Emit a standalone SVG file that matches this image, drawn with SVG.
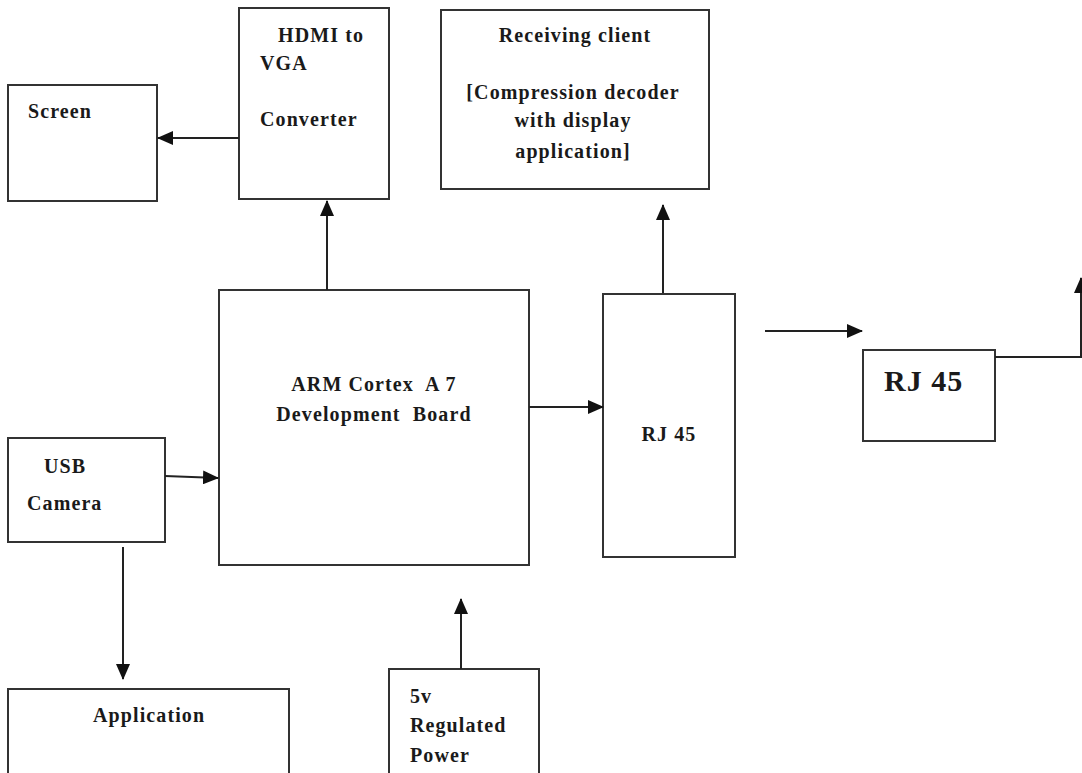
<svg xmlns="http://www.w3.org/2000/svg" width="1082" height="773" viewBox="0 0 1082 773">
<style>
.box{fill:#fff;stroke:#333;stroke-width:2}
.t{font-family:"Liberation Serif","Times New Roman",serif;font-weight:bold;font-size:20px;letter-spacing:1.1px;fill:#1a1a1a}
.c{stroke:#222;stroke-width:2;fill:none}
</style>
<defs>
<marker id="ah" markerUnits="userSpaceOnUse" markerWidth="16" markerHeight="14" refX="15" refY="7" orient="auto">
<path d="M0,0 L16,7 L0,14 Z" fill="#111"/>
</marker>
</defs>
<rect width="1082" height="773" fill="#fff"/>
<g id="screen"><rect class="box" x="8" y="85" width="149" height="116"/><text class="t" x="28" y="118">Screen</text></g>
<g id="hdmi"><rect class="box" x="239" y="8" width="150" height="191"/><text class="t" x="278" y="42">HDMI to</text><text class="t" x="260" y="70">VGA</text><text class="t" x="260" y="126">Converter</text></g>
<g id="client"><rect class="box" x="441" y="10" width="268" height="179"/>
<text class="t" x="575" y="42" text-anchor="middle">Receiving client</text>
<text class="t" x="573" y="99" text-anchor="middle">[Compression decoder</text>
<text class="t" x="573" y="127" text-anchor="middle">with display</text>
<text class="t" x="573" y="158" text-anchor="middle">application]</text></g>
<g id="arm"><rect class="box" x="219" y="290" width="310" height="275"/>
<text class="t" x="374" y="391" text-anchor="middle" xml:space="preserve">ARM Cortex  A 7</text>
<text class="t" x="374" y="421" text-anchor="middle" xml:space="preserve">Development  Board</text></g>
<g id="rj45a"><rect class="box" x="603" y="294" width="132" height="263"/><text class="t" x="669" y="441" text-anchor="middle">RJ 45</text></g>
<g id="rj45b"><rect class="box" x="863" y="350" width="132" height="91"/><text class="t" x="884" y="391" style="font-size:30px;letter-spacing:1px">RJ 45</text></g>
<g id="usb"><rect class="box" x="8" y="438" width="157" height="104"/><text class="t" x="44" y="473">USB</text><text class="t" x="27" y="510">Camera</text></g>
<g id="app"><rect class="box" x="8" y="689" width="281" height="90"/><text class="t" x="93" y="722">Application</text></g>
<g id="power"><rect class="box" x="389" y="669" width="150" height="110"/><text class="t" x="410" y="703">5v</text><text class="t" x="410" y="732">Regulated</text><text class="t" x="410" y="762">Power</text></g>
<g id="connectors">
<line class="c" x1="239" y1="138" x2="158" y2="138" marker-end="url(#ah)"/>
<line class="c" x1="327" y1="290" x2="327" y2="201" marker-end="url(#ah)"/>
<line class="c" x1="663" y1="293" x2="663" y2="205" marker-end="url(#ah)"/>
<line class="c" x1="529" y1="407" x2="603" y2="407" marker-end="url(#ah)"/>
<line class="c" x1="765" y1="331" x2="862" y2="331" marker-end="url(#ah)"/>
<polyline class="c" points="995,357 1081,357 1081,278" marker-end="url(#ah)"/>
<line class="c" x1="165" y1="476" x2="218" y2="478" marker-end="url(#ah)"/>
<line class="c" x1="123" y1="547" x2="123" y2="679" marker-end="url(#ah)"/>
<line class="c" x1="461" y1="669" x2="461" y2="599" marker-end="url(#ah)"/>
</g>
</svg>
